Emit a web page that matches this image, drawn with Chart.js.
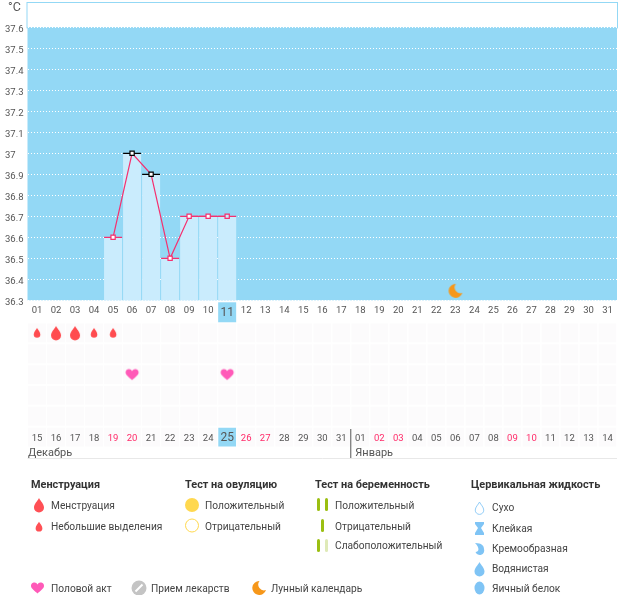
<!DOCTYPE html>
<html>
<head>
<meta charset="utf-8">
<script src="https://cdn.jsdelivr.net/npm/chart.js@4"></script>
<style>
body { margin: 0; background: #fff; font-family: Roboto, sans-serif; font-size: 10.2px; color: #444; }
#page { position: relative; width: 626px; height: 595px; overflow: hidden; }
canvas { position: absolute; left: 0; }
#icons { position: absolute; left: 0; top: 0; }
.t { position: absolute; line-height: 14px; white-space: nowrap; }
.h { font-weight: bold; color: #333; font-size: 10.9px; }
</style>
</head>
<body>
<div id="page">
    <canvas id="temp_chart" width="626" height="325" style="top:0"></canvas>
    <canvas id="marks_chart" width="626" height="140" style="top:320px"></canvas>

    <svg id="icons" width="626" height="595">
        <defs>
            <path id="drop" d="M0-7C1.5-4 5-1 5 2.5A5 5 0 0 1-5 2.5C-5-1-1.5-4 0-7Z"/>
            <path id="heart" d="M0 5.500C-2.500 3-6.500 .5-6.500-2A3.400 3.400 0 0 1 0-3.500A3.400 3.400 0 0 1 6.500-2C6.500 .5 2.500 3 0 5.500Z"/>
            <path id="moon" d="M.5-7A7 7 0 1 0 7 2A5.800 5.800 0 0 1 .5-7Z"/>
        </defs>
        <use href="#drop" x="39" y="505" fill="#ff5055"/>
        <use href="#drop" transform="translate(39,526.500) scale(.68)" fill="#ff5055"/>
        <circle cx="192" cy="505" r="7" fill="#ffd84f"/>
        <circle cx="192" cy="525.500" r="6.500" fill="#fff" stroke="#ffd84f"/>
        <g fill="#9bbf12">
            <rect x="317" y="498" width="3" height="13" rx="1.500"/><rect x="325" y="498" width="3" height="13" rx="1.500"/>
            <rect x="321" y="519" width="3" height="13" rx="1.500"/>
            <rect x="317" y="539" width="3" height="13" rx="1.500"/>
            <rect x="325" y="539" width="3" height="13" rx="1.500" fill="#dfeab8"/>
        </g>
        <g fill="#7fc4f5">
            <use href="#drop" transform="translate(479.500,508) scale(.85)" fill="#fff" stroke="#7fc4f5"/>
            <path d="M475 522H484V524L481 528L484 533V535H475V533L478 528L475 524Z"/>
            <path d="M475 543C482 543 484 546 484 549A4.500 4.500 0 0 1 475.500 552C479 552 480 548 475 543Z"/>
            <use href="#drop" x="479.500" y="569"/>
            <ellipse cx="479.500" cy="588" rx="5" ry="6.500"/>
        </g>
        <use href="#heart" x="37.500" y="588" fill="#ff5ab8"/>
        <circle cx="139" cy="588" r="7.500" fill="#c4c4c4"/>
        <path d="M135.500 591.500L142.500 584.500" stroke="#fff" stroke-width="2"/>
        <use href="#moon" x="259" y="588" fill="#f6971a"/>
    </svg>

    <div class="t" style="left:8px;top:0;font-size:12.5px;color:#555">°C</div>

    <div class="t h" style="left:31px;top:478px">Менструация</div>
    <div class="t" style="left:51px;top:499px">Менструация</div>
    <div class="t" style="left:51px;top:520px">Небольшие выделения</div>

    <div class="t h" style="left:185px;top:478px">Тест на овуляцию</div>
    <div class="t" style="left:205px;top:499px">Положительный</div>
    <div class="t" style="left:205px;top:520px">Отрицательный</div>

    <div class="t h" style="left:315px;top:478px">Тест на беременность</div>
    <div class="t" style="left:335px;top:499px">Положительный</div>
    <div class="t" style="left:335px;top:520px">Отрицательный</div>
    <div class="t" style="left:335px;top:539px">Слабоположительный</div>

    <div class="t h" style="left:471px;top:478px">Цервикальная жидкость</div>
    <div class="t" style="left:492px;top:501px">Сухо</div>
    <div class="t" style="left:492px;top:522px">Клейкая</div>
    <div class="t" style="left:492px;top:542px">Кремообразная</div>
    <div class="t" style="left:492px;top:562px">Водянистая</div>
    <div class="t" style="left:492px;top:582px">Яичный белок</div>

    <div class="t" style="left:51px;top:582px">Половой акт</div>
    <div class="t" style="left:151px;top:582px">Прием лекарств</div>
    <div class="t" style="left:271px;top:582px">Лунный календарь</div>
</div>

<script>
const topDays = ['01','02','03','04','05','06','07','08','09','10','11','12','13','14','15','16',
    '17','18','19','20','21','22','23','24','25','26','27','28','29','30','31'];
const bottomDays = ['15','16','17','18','19','20','21','22','23','24','25','26','27','28','29','30','31',
    '01','02','03','04','05','06','07','08','09','10','11','12','13','14'];
const redDays = ['19','20','26','27','02','03','09','10'];
const temperatures = [null,null,null,null,36.6,37,36.9,36.5,36.7,36.7,36.7];
const tempTicks = [36.3,36.4,36.5,36.6,36.7,36.8,36.9,37,37.1,37.2,37.3,37.4,37.5,37.6];
const blackDays = ['06','07'];
const today = '11';
const moonDays = ['23'];
const periodDays = ['02','03'];
const spottingDays = ['01','04','05'];
const sexDays = ['06','11'];

const FONT = 'Roboto, sans-serif';
const SKY = '#93d8f5';
const PINK = '#f5306f';
const TEXT = '#555';

// small canvases used as point images
function icon(w, h, path, color) {
    var c = document.createElement('canvas');
    c.width = w;
    c.height = h;
    var ctx = c.getContext('2d');
    ctx.translate(w / 2, h / 2);
    ctx.fillStyle = color;
    ctx.fill(new Path2D(path));
    return c;
}
var dropPath = 'M0-7C1.5-4 5-1 5 2.5A5 5 0 0 1-5 2.5C-5-1-1.5-4 0-7Z';
var smallDropPath = 'M0-5C1-3 3.3-1 3.3 1.500A3.300 3.300 0 0 1-3.300 1.500C-3.300-1-1-3 0-5Z';
var heartPath = 'M0 5.500C-2.500 3-6.500 .5-6.500-2A3.400 3.400 0 0 1 0-3.500A3.400 3.400 0 0 1 6.500-2C6.500 .5 2.500 3 0 5.500Z';
var moonPath = 'M.5-7A7 7 0 1 0 7 2A5.800 5.800 0 0 1 .5-7Z';

var tempPanel = {
    id: 'tempPanel',
    beforeDraw: function(chart) {
        var a = chart.chartArea, ctx = chart.ctx, y = chart.scales.y, x = chart.scales.x;
        var top = y.getPixelForValue(37.6);
        ctx.save();
        ctx.fillStyle = SKY;
        ctx.fillRect(a.left, top, a.width, a.bottom - top);
        ctx.strokeStyle = SKY;
        ctx.strokeRect(a.left - .5, a.top - .5, a.width + 1, top - a.top + 1);
        ctx.fillRect(x.getPixelForValue(topDays.indexOf(today)) - 9, a.bottom + 2, 18, 20);
        ctx.restore();
    }
};

document.addEventListener("DOMContentLoaded", function() {
    new Chart(document.getElementById('temp_chart'), {
        data: {
            labels: topDays,
            datasets: [{
                type: 'line',
                data: temperatures,
                order: 1,
                borderColor: PINK,
                borderWidth: 1.2,
                tension: 0,
                pointStyle: 'rect',
                pointRadius: 3,
                pointBorderWidth: 1.2,
                pointBackgroundColor: topDays.map(d => d === today ? '#caecfd' : '#fff'),
                pointBorderColor: topDays.map(d => blackDays.includes(d) ? '#000' : PINK)
            }, {
                type: 'line',
                data: temperatures,
                order: 2,
                showLine: false,
                pointStyle: 'line',
                pointRadius: 9,
                pointBorderWidth: 1.2,
                pointBorderColor: topDays.map(d => blackDays.includes(d) ? '#000' : PINK)
            }, {
                type: 'bar',
                data: temperatures,
                order: 3,
                backgroundColor: '#caecfd',
                barPercentage: 1,
                categoryPercentage: 18 / 19
            }, {
                type: 'line',
                data: moonDays.map(d => ({ x: d, y: 36.345 })),
                order: 0,
                showLine: false,
                pointStyle: icon(16, 16, moonPath, '#f6971a')
            }]
        },
        plugins: [tempPanel],
        options: {
            responsive: false,
            animation: false,
            layout: { autoPadding: false, padding: { left: 5, top: 3, right: 9, bottom: 0 } },
            plugins: { legend: { display: false }, tooltip: { enabled: false } },
            scales: {
                x: {
                    afterFit: function(axis) { axis.height = 24.7; axis.paddingLeft = 0; axis.paddingRight = 0; },
                    grid: { display: false, drawTicks: false },
                    border: { display: false },
                    ticks: {
                        autoSkip: false,
                        maxRotation: 0,
                        padding: 5,
                        color: TEXT,
                        font: c => ({ family: FONT, size: topDays[c.index] === today ? 12 : 9.5 })
                    }
                },
                y: {
                    min: 36.3,
                    max: 37.716,
                    afterFit: function(axis) { axis.width = 22.5; axis.paddingTop = 0; axis.paddingBottom = 0; },
                    afterBuildTicks: function(axis) { axis.ticks = tempTicks.map(v => ({ value: v })); },
                    grid: { color: '#fff', drawTicks: false },
                    border: { display: false, dash: [1, 2] },
                    ticks: {
                        crossAlign: 'far',
                        labelOffset: 2.5,
                        color: TEXT,
                        font: { family: FONT, size: 9.5 },
                        callback: v => String(v)
                    }
                }
            }
        }
    });

    var rowsBottomUp = ['dates', 'row5', 'row4', 'row3', 'row2', 'row1'];
    var cellSets = rowsBottomUp.map(function(name) {
        return {
            type: 'bar',
            label: name,
            data: topDays.map(() => 1),
            order: 5,
            backgroundColor: name === 'dates'
                ? topDays.map(d => d === today ? SKY : '#fcfbfc')
                : '#fcfbfc',
            borderColor: '#fff',
            borderWidth: { top: 1, bottom: 1 },
            borderSkipped: false,
            barPercentage: 1,
            categoryPercentage: 18 / 19
        };
    });
    function markSet(days, row, image) {
        return {
            type: 'line',
            yAxisID: 'marks',
            data: days.map(d => ({ x: d, y: row })),
            order: 1,
            showLine: false,
            pointStyle: image
        };
    }
    var monthLine = {
        id: 'monthLine',
        afterDraw: function(chart) {
            var ctx = chart.ctx, a = chart.chartArea;
            var split = chart.scales.x.getPixelForValue(17) - 9.5;
            ctx.save();
            ctx.strokeStyle = '#e8e8e8';
            ctx.beginPath();
            ctx.moveTo(a.left, 138.5);
            ctx.lineTo(a.right, 138.5);
            ctx.stroke();
            ctx.strokeStyle = '#555';
            ctx.beginPath();
            ctx.moveTo(split, 109);
            ctx.lineTo(split, 138);
            ctx.stroke();
            ctx.fillStyle = TEXT;
            ctx.font = '11px ' + FONT;
            ctx.textBaseline = 'middle';
            ctx.fillText('Декабрь', a.left + .5, 133.5);
            ctx.fillText('Январь', split + 4.5, 133.5);
            ctx.restore();
        }
    };

    new Chart(document.getElementById('marks_chart'), {
        data: {
            labels: topDays,
            datasets: cellSets.concat([
                markSet(periodDays, 5.5, icon(14, 18, dropPath, '#ff4b4f')),
                markSet(spottingDays, 5.5, icon(10, 14, smallDropPath, '#ff4b4f')),
                markSet(sexDays, 3.5, icon(16, 16, heartPath, '#ff5ab8'))
            ])
        },
        plugins: [monthLine],
        options: {
            responsive: false,
            animation: false,
            layout: { autoPadding: false, padding: { left: 27.5, top: 2.5, right: 9, bottom: 0 } },
            plugins: { legend: { display: false }, tooltip: { enabled: false } },
            scales: {
                x: {
                    stacked: true,
                    afterFit: function(axis) { axis.height = 12.5; axis.paddingLeft = 0; axis.paddingRight = 0; },
                    grid: { display: false, drawTicks: false },
                    border: { display: false },
                    ticks: {
                        z: 1,
                        mirror: true,
                        autoSkip: false,
                        maxRotation: 0,
                        padding: 2.8,
                        callback: (v, i) => bottomDays[i],
                        color: c => redDays.includes(bottomDays[c.index]) ? '#ff2a68' : TEXT,
                        font: c => ({ family: FONT, size: topDays[c.index] === today ? 12 : 9.5 })
                    }
                },
                y: { display: false, stacked: true, min: 0, max: 6 },
                marks: { display: false, min: 0, max: 6 }
            }
        }
    });
});
</script>
</body>
</html>
